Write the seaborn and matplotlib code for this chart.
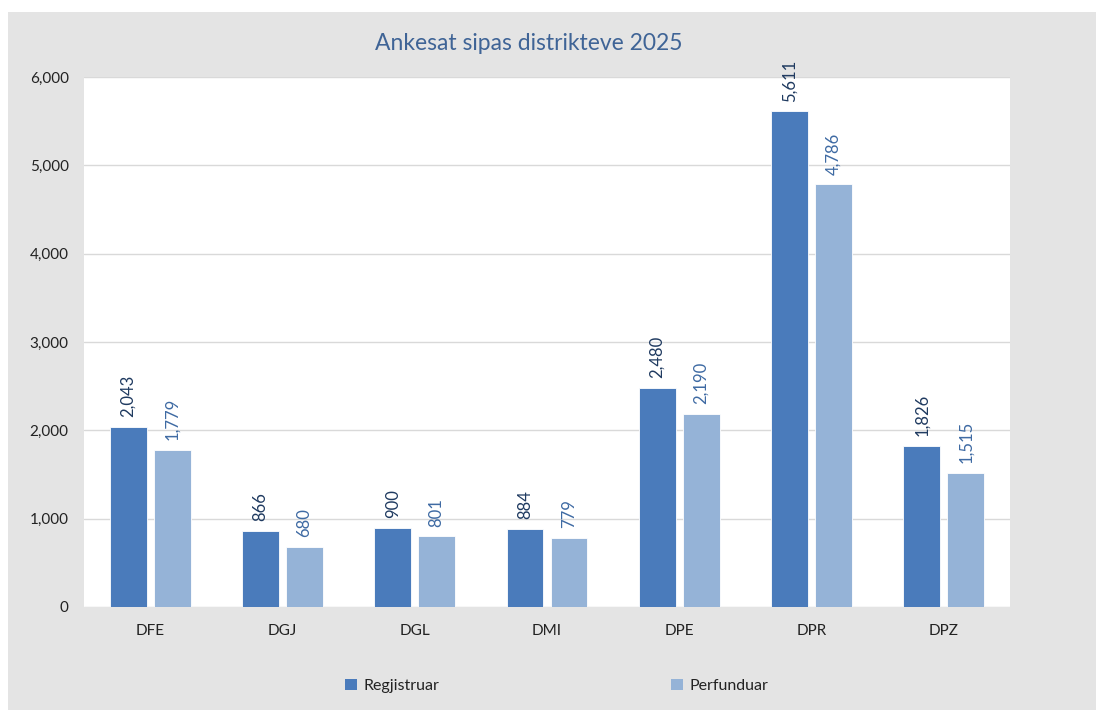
import pandas as pd
import seaborn as sns
from matplotlib import pyplot as plt
from matplotlib.patches import Patch, Rectangle
from matplotlib.ticker import FuncFormatter, MultipleLocator

districts = ['DFE', 'DGJ', 'DGL', 'DMI', 'DPE', 'DPR', 'DPZ']
regjistruar = [2043, 866, 900, 884, 2480, 5611, 1826]
perfunduar = [1779, 680, 801, 779, 2190, 4786, 1515]
series = ['Regjistruar', 'Perfunduar']

dark = '#4A7BBB'
light = '#95B3D7'

df = pd.DataFrame({
    'district': districts * 2,
    'value': regjistruar + perfunduar,
    'series': [series[0]] * len(districts) + [series[1]] * len(districts),
})

sns.set_theme(style='white')
plt.rcParams['font.family'] = ['Lato', 'DejaVu Sans']

fig = plt.figure(figsize=(10.97, 7.10), dpi=100, facecolor='white')
# gray chart area background, kept behind the axes
fig.patches.append(Rectangle((8 / 1097, 0), 1 - 9 / 1097, 1 - 12 / 710,
                             transform=fig.transFigure, facecolor='#E4E4E4',
                             edgecolor='none', zorder=-5))

ax = fig.add_axes([84 / 1097, 1 - 607 / 710, 926 / 1097, 530 / 710])
ax.set_facecolor('white')

sns.barplot(data=df, x='district', y='value', hue='series', hue_order=series,
            palette=[dark, light], saturation=1, width=0.665, gap=0.16,
            legend=False, edgecolor='white', linewidth=0.6, ax=ax, zorder=3)

# value labels, rotated like the original
label_colors = ['#1F3A60', '#3E6AA3']
for container, col in zip(ax.containers, label_colors):
    for bar in container:
        h = bar.get_height()
        ax.annotate(f'{h:,.0f}', (bar.get_x() + bar.get_width() / 2, h),
                    xytext=(0, 7), textcoords='offset points', rotation=90,
                    ha='center', va='bottom', fontsize=12, color=col)

ax.set_ylim(0, 6000)
ax.set_xlim(-0.5, len(districts) - 0.5)
ax.yaxis.set_major_locator(MultipleLocator(1000))
ax.yaxis.set_major_formatter(FuncFormatter(lambda v, p: f'{v:,.0f}'))
ax.grid(axis='y', color='#D9D9D9', linewidth=1, zorder=0)
ax.set_axisbelow(True)
for s in ax.spines.values():
    s.set_visible(False)
ax.tick_params(axis='y', length=0, pad=11, labelsize=11, labelcolor='#222222')
ax.tick_params(axis='x', length=0, pad=12, labelsize=11, labelcolor='#222222')
ax.set_xlabel('')
ax.set_ylabel('')

fig.text(529 / 1097, 1 - 43 / 710, 'Ankesat sipas distrikteve 2025',
         ha='center', va='center', fontsize=16.5, color='#3F6496')

handles = [Patch(facecolor=dark, edgecolor='none', label=series[0]),
           Patch(facecolor=light, edgecolor='none', label=series[1])]
fig.legend(handles=handles, loc='center', bbox_to_anchor=(557 / 1097, 1 - 686 / 710),
           ncol=2, frameon=False, fontsize=11.5, handlelength=0.75,
           handleheight=0.75, handletextpad=0.4, columnspacing=14.5,
           labelcolor='#222222')

fig.savefig('out.png', dpi=100, facecolor=fig.get_facecolor())
